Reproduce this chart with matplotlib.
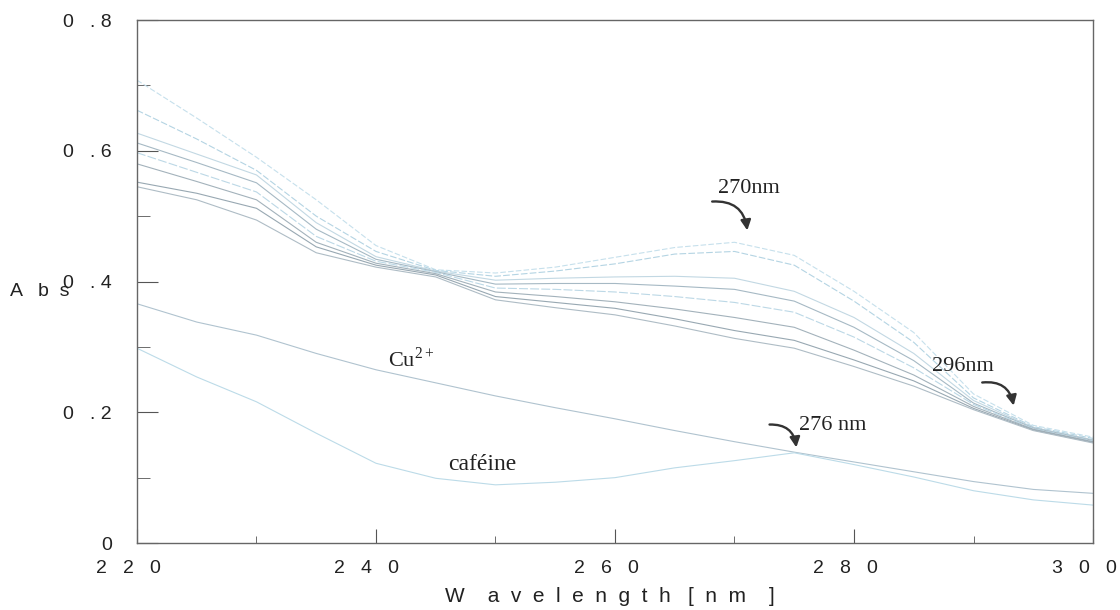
import numpy as np
import matplotlib
matplotlib.use("Agg")
import matplotlib.pyplot as plt
import matplotlib.transforms as mtransforms
from matplotlib.ticker import MultipleLocator

plt.rcParams['font.family'] = ['Liberation Sans', 'DejaVu Sans']
plt.rcParams['mathtext.fontset'] = 'custom'
plt.rcParams['mathtext.rm'] = 'Liberation Serif'

# wavelengths (nm)
wavelength = [220, 225, 230, 235, 240, 245, 250, 255, 260, 265, 270, 275, 280, 285, 290, 295, 300]

# titration spectra (top -> bottom)
spec_1 = [0.708, 0.650, 0.590, 0.525, 0.455, 0.418, 0.413, 0.422, 0.437, 0.452, 0.460, 0.440, 0.385, 0.322, 0.228, 0.180, 0.162]
spec_2 = [0.662, 0.618, 0.570, 0.500, 0.446, 0.417, 0.408, 0.416, 0.427, 0.442, 0.446, 0.425, 0.370, 0.307, 0.222, 0.178, 0.160]
spec_3 = [0.627, 0.595, 0.563, 0.490, 0.438, 0.416, 0.402, 0.405, 0.407, 0.408, 0.405, 0.385, 0.345, 0.290, 0.218, 0.177, 0.158]
spec_4 = [0.612, 0.582, 0.551, 0.480, 0.434, 0.415, 0.396, 0.397, 0.397, 0.393, 0.388, 0.370, 0.330, 0.279, 0.214, 0.176, 0.157]
spec_5 = [0.597, 0.567, 0.537, 0.469, 0.431, 0.414, 0.390, 0.388, 0.384, 0.377, 0.368, 0.353, 0.315, 0.268, 0.212, 0.175, 0.156]
spec_6 = [0.580, 0.553, 0.525, 0.460, 0.428, 0.412, 0.384, 0.377, 0.369, 0.358, 0.345, 0.330, 0.295, 0.257, 0.209, 0.174, 0.155]
spec_7 = [0.552, 0.535, 0.512, 0.453, 0.425, 0.410, 0.377, 0.368, 0.359, 0.343, 0.325, 0.310, 0.280, 0.248, 0.206, 0.173, 0.154]
spec_8 = [0.545, 0.525, 0.494, 0.444, 0.422, 0.407, 0.372, 0.360, 0.349, 0.332, 0.313, 0.298, 0.270, 0.240, 0.204, 0.172, 0.153]

cu2 = [0.366, 0.338, 0.318, 0.290, 0.265, 0.245, 0.225, 0.207, 0.190, 0.172, 0.155, 0.139, 0.124, 0.109, 0.094, 0.082, 0.076]
cafeine = [0.298, 0.254, 0.216, 0.168, 0.122, 0.099, 0.089, 0.093, 0.100, 0.115, 0.126, 0.138, 0.120, 0.101, 0.080, 0.066, 0.058]

x_ticks = [220, 240, 260, 280, 300]
x_ticklabels = ["2   2   0", "2   4   0", "2   6   0", "2   8   0", "3   0   0"]
y_ticks = [0, 0.2, 0.4, 0.6, 0.8]
y_ticklabels = ["0", "0   . 2", "0   . 4", "0   . 6", "0   . 8"]

spectra = [spec_1, spec_2, spec_3, spec_4, spec_5, spec_6, spec_7, spec_8]
spec_colors = ['#c6e0ec', '#b4d4e3', '#c2d8e3', '#a6b9c4', '#bcd8e6', '#a3b2bb', '#98a8b2', '#aebcc5']
spec_styles = [(0, (5, 2)), (0, (6, 2)), '-', '-', (0, (8, 2)), '-', '-', '-']

fig = plt.figure(figsize=(11.2, 6.1), dpi=100)
ax = fig.add_axes([0.1223, 0.1098, 0.8536, 0.8574])

for s, c, ls in zip(spectra, spec_colors, spec_styles):
    ax.plot(wavelength, s, color=c, linewidth=0.8, linestyle=ls)
ax.plot(wavelength, cu2, color='#b0c3cf', linewidth=0.8)
ax.plot(wavelength, cafeine, color='#bcdbe8', linewidth=0.8)

ax.set_xlim(220, 300)
ax.set_ylim(0, 0.8)
ax.xaxis.set_minor_locator(MultipleLocator(10))
ax.yaxis.set_minor_locator(MultipleLocator(0.1))
ax.set_xticks(x_ticks)
ax.set_xticklabels(x_ticklabels)
ax.set_yticks(y_ticks)
ax.set_yticklabels(y_ticklabels)

ax.tick_params(axis='both', which='both', direction='in', colors='#555', labelcolor='#222', labelsize=14)
ax.tick_params(axis='x', which='major', length=10, pad=12)
ax.tick_params(axis='x', which='minor', length=5)
ax.tick_params(axis='y', which='major', length=15, pad=18)
ax.tick_params(axis='y', which='minor', length=9)
for sp in ax.spines.values():
    sp.set_color('#666')
    sp.set_linewidth(1.0)

# x tick labels sit a little left of their ticks in the original
shift = mtransforms.ScaledTranslation(-9 / 100, 0, fig.dpi_scale_trans)
for lab in ax.get_xticklabels():
    lab.set_transform(lab.get_transform() + shift)

ax.set_xlabel("W    a  v  e  l  e  n  g  t  h   [  n  m    ]", fontsize=15, color='#222', va='center')
ax.xaxis.set_label_coords(0.495, -0.103)
fig.text(0.009, 1 - 292 / 610, "A   b  s", fontsize=14, color='#222', va='center', ha='left')

serif = ['Liberation Serif', 'DejaVu Serif']
ax.text(268.6, 0.543, "270nm", family=serif, fontsize=16, color='#222', va='center')
ax.text(286.5, 0.270, "296nm", family=serif, fontsize=16, color='#222', va='center')
ax.text(275.4, 0.180, "276 nm", family=serif, fontsize=16, color='#222', va='center')
ax.text(241.0, 0.280, r"Cu$^{\mathrm{2+}}$", family=serif, fontsize=16, color='#222', va='center')
ax.text(246.0, 0.120, "caféine", family=serif, fontsize=17, color='#222', va='center')

arrow_kw = dict(arrowstyle='-|>', color='#333', lw=1.7, mutation_scale=15)
ax.annotate("", xy=(271.1, 0.474), xytext=(267.9, 0.522),
            arrowprops=dict(connectionstyle="arc3,rad=-0.5", **arrow_kw))
ax.annotate("", xy=(293.4, 0.206), xytext=(290.5, 0.245),
            arrowprops=dict(connectionstyle="arc3,rad=-0.5", **arrow_kw))
ax.annotate("", xy=(275.2, 0.142), xytext=(272.7, 0.181),
            arrowprops=dict(connectionstyle="arc3,rad=-0.5", **arrow_kw))

plt.savefig("out.png", dpi=100)
